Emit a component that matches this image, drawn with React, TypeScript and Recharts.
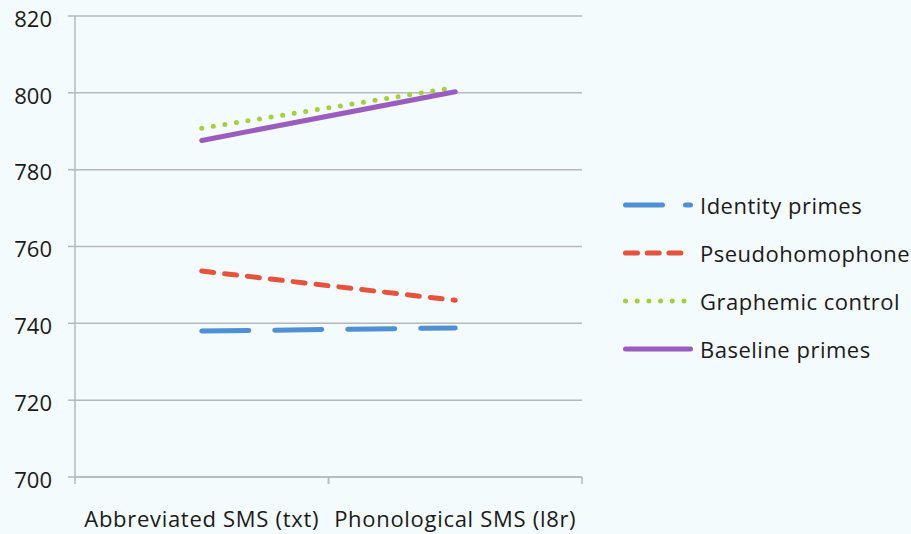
import React from 'react';
import { LineChart, Line, XAxis, YAxis, CartesianGrid } from 'recharts';

const conditions = ['Abbreviated SMS (txt)', 'Phonological SMS (l8r)'];
const identityPrimes = [738.0, 738.8];
const pseudohomophone = [753.6, 746.0];
const graphemicControl = [790.8, 801.4];
const baselinePrimes = [787.6, 800.3];
const yTicks = [700, 720, 740, 760, 780, 800, 820];

const data = conditions.map((name, i) => ({
  name,
  identity: identityPrimes[i],
  pseudo: pseudohomophone[i],
  graphemic: graphemicControl[i],
  baseline: baselinePrimes[i],
}));

const FONT = '"Open Sans", sans-serif';
const GRID = '#b5b8b8';
const CHART_W = 911;
const CHART_H = 534;
const PLOT_LEFT = 75;
const PLOT_RIGHT = 582;
const BAND_HALF = (PLOT_RIGHT - PLOT_LEFT) / conditions.length / 2;

const series = [
  { key: 'identity', label: 'Identity primes', color: '#4f8fd3', dash: '47 26', legendDash: '37 23' },
  { key: 'pseudo', label: 'Pseudohomophone', color: '#e5533c', dash: '12 11', legendDash: '12 9.7' },
  { key: 'graphemic', label: 'Graphemic control', color: '#a6cf3c', dash: '0 11.7', legendDash: '0 11.7' },
  { key: 'baseline', label: 'Baseline primes', color: '#9a5cbf', dash: undefined, legendDash: undefined },
];

// category label plus the boundary tick marks at both band edges
const CategoryTick = (props: any) => {
  const { x, y, payload } = props;
  return (
    <g>
      <line x1={x - BAND_HALF} y1={y - 8} x2={x - BAND_HALF} y2={y - 1} stroke={GRID} strokeWidth={1.5} />
      <line x1={x + BAND_HALF} y1={y - 8} x2={x + BAND_HALF} y2={y - 1} stroke={GRID} strokeWidth={1.5} />
      <text x={x} y={y + 42} textAnchor="middle" fontFamily={FONT} fontSize={22} letterSpacing={0.7} fill="#1a1a1a">
        {payload.value}
      </text>
    </g>
  );
};

const SeriesLegend = () => (
  <div
    style={{
      position: 'absolute',
      left: 620,
      top: 181,
      fontFamily: FONT,
      fontSize: 22,
      letterSpacing: 0.5,
      color: '#1a1a1a',
    }}
  >
    {series.map((s) => (
      <div key={s.key} style={{ display: 'flex', alignItems: 'center', height: 48 }}>
        <svg width={78} height={12} style={{ marginRight: 2 }}>
          <line
            x1={5.5}
            y1={6}
            x2={70.5}
            y2={6}
            stroke={s.color}
            strokeWidth={5}
            strokeLinecap="round"
            strokeDasharray={s.legendDash}
          />
        </svg>
        <span>{s.label}</span>
      </div>
    ))}
  </div>
);

export default function App() {
  return (
    <div style={{ position: 'absolute', left: 0, top: 0, width: CHART_W, height: CHART_H, background: '#f4fbfc' }}>
      <LineChart
        width={CHART_W}
        height={CHART_H}
        data={data}
        margin={{ top: 16, right: CHART_W - PLOT_RIGHT, left: 0, bottom: 0 }}
      >
        <CartesianGrid vertical={false} stroke={GRID} strokeWidth={1.5} />
        <XAxis
          dataKey="name"
          height={57}
          padding={{ left: BAND_HALF, right: BAND_HALF }}
          axisLine={{ stroke: GRID, strokeWidth: 1.5 }}
          tickLine={false}
          tick={<CategoryTick />}
          interval={0}
        />
        <YAxis
          width={PLOT_LEFT}
          domain={[700, 820]}
          ticks={yTicks}
          interval={0}
          axisLine={{ stroke: GRID, strokeWidth: 1.5 }}
          tickLine={{ stroke: GRID, strokeWidth: 1.5 }}
          tickSize={7}
          tickMargin={16}
          tick={{ fontFamily: FONT, fontSize: 22, fill: '#1a1a1a', dy: 3 }}
        />
        {series.map((s) => (
          <Line
            key={s.key}
            type="linear"
            dataKey={s.key}
            name={s.label}
            stroke={s.color}
            strokeWidth={5}
            strokeDasharray={s.dash}
            strokeLinecap="round"
            dot={false}
            activeDot={false}
            isAnimationActive={false}
          />
        ))}
      </LineChart>
      <SeriesLegend />
    </div>
  );
}
